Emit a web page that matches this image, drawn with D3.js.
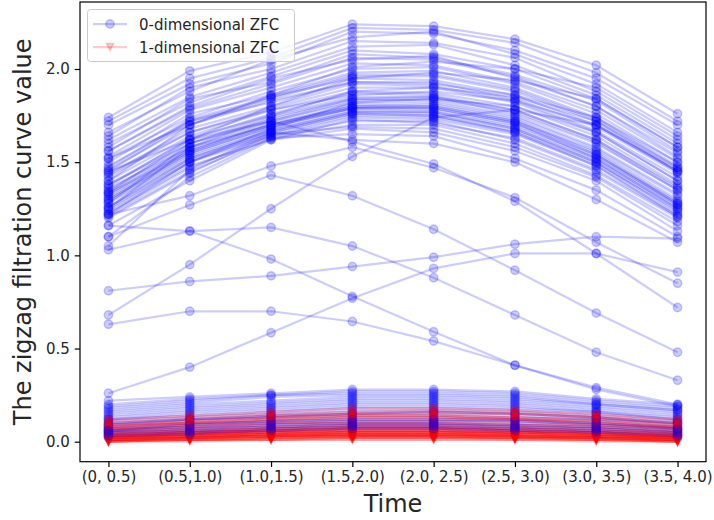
<!DOCTYPE html>
<html>
<head>
<meta charset="utf-8">
<script src="https://cdn.jsdelivr.net/npm/d3@7"></script>
<style>
  body { margin: 0; background: #fff; }
  svg { display: block; font-family: "DejaVu Sans", sans-serif; }
</style>
</head>
<body>
<div id="vis"></div>
<script>
// time windows on the x axis
const timeLabels = ['(0, 0.5)', '(0.5,1.0)', '(1.0,1.5)', '(1.5,2.0)', '(2.0, 2.5)', '(2.5, 3.0)', '(3.0, 3.5)', '(3.5, 4.0)'];
const yTicks = [0.0, 0.5, 1.0, 1.5, 2.0];

// 0-dimensional ZFC, upper bundle
const zfc0Upper = [
  [1.74, 1.99, 2.09, 2.24, 2.23, 2.16, 2.02, 1.76],
  [1.72, 1.95, 2.06, 2.22, 2.21, 2.14, 1.98, 1.72],
  [1.70, 1.92, 2.03, 2.20, 2.19, 2.10, 1.95, 1.70],
  [1.66, 1.88, 2.05, 2.17, 2.20, 2.08, 1.92, 1.66],
  [1.64, 1.90, 2.00, 2.15, 2.14, 2.06, 1.88, 1.62],
  [1.62, 1.85, 1.98, 2.12, 2.13, 2.02, 1.86, 1.60],
  [1.60, 1.82, 1.96, 2.10, 2.08, 2.00, 1.84, 1.58],
  [1.58, 1.84, 1.93, 2.08, 2.06, 1.97, 1.83, 1.56],
  [1.56, 1.80, 1.95, 2.05, 2.07, 1.95, 1.80, 1.55],
  [1.53, 1.78, 1.90, 2.03, 2.02, 1.93, 1.78, 1.52],
  [1.52, 1.74, 1.88, 2.00, 2.01, 1.92, 1.76, 1.50],
  [1.50, 1.76, 1.86, 1.98, 1.99, 1.90, 1.74, 1.48],
  [1.48, 1.72, 1.84, 1.96, 1.96, 1.88, 1.72, 1.47],
  [1.46, 1.70, 1.85, 1.95, 1.94, 1.86, 1.70, 1.45],
  [1.45, 1.72, 1.82, 1.93, 1.93, 1.84, 1.69, 1.44],
  [1.43, 1.68, 1.80, 1.92, 1.91, 1.83, 1.67, 1.42],
  [1.42, 1.66, 1.79, 1.90, 1.90, 1.82, 1.66, 1.40],
  [1.40, 1.64, 1.78, 1.88, 1.87, 1.80, 1.64, 1.38],
  [1.38, 1.62, 1.76, 1.87, 1.86, 1.78, 1.62, 1.37],
  [1.37, 1.63, 1.75, 1.85, 1.85, 1.76, 1.60, 1.35],
  [1.35, 1.60, 1.73, 1.84, 1.83, 1.75, 1.58, 1.33],
  [1.34, 1.58, 1.72, 1.82, 1.82, 1.74, 1.57, 1.32],
  [1.33, 1.57, 1.70, 1.81, 1.80, 1.72, 1.56, 1.30],
  [1.32, 1.56, 1.71, 1.80, 1.79, 1.71, 1.54, 1.29],
  [1.31, 1.55, 1.69, 1.79, 1.78, 1.70, 1.53, 1.28],
  [1.30, 1.54, 1.68, 1.78, 1.77, 1.69, 1.52, 1.27],
  [1.29, 1.53, 1.67, 1.77, 1.76, 1.68, 1.51, 1.26],
  [1.28, 1.52, 1.66, 1.76, 1.75, 1.67, 1.50, 1.25],
  [1.26, 1.51, 1.65, 1.75, 1.74, 1.66, 1.49, 1.24],
  [1.25, 1.50, 1.64, 1.74, 1.73, 1.65, 1.48, 1.22],
  [1.23, 1.48, 1.62, 1.73, 1.71, 1.63, 1.46, 1.21],
  [1.22, 1.47, 1.64, 1.72, 1.72, 1.62, 1.45, 1.20],
  [1.21, 1.45, 1.63, 1.70, 1.70, 1.60, 1.43, 1.18],
  [1.20, 1.44, 1.65, 1.69, 1.68, 1.58, 1.42, 1.16],
  [1.16, 1.40, 1.62, 1.68, 1.66, 1.56, 1.40, 1.13],
  [1.10, 1.42, 1.63, 1.65, 1.64, 1.52, 1.35, 1.10],
  [1.05, 1.46, 1.66, 1.62, 1.60, 1.50, 1.30, 1.07],
  [1.52, 1.70, 1.83, 1.93, 1.92, 1.86, 1.74, 1.50],
  [1.36, 1.58, 1.74, 1.84, 1.85, 1.78, 1.62, 1.36],
  [1.44, 1.66, 1.78, 1.86, 1.88, 1.83, 1.70, 1.46],
  [1.24, 1.50, 1.68, 1.82, 1.84, 1.80, 1.66, 1.40],
  [1.28, 1.60, 1.75, 1.88, 1.90, 1.85, 1.72, 1.45],
  [1.34, 1.62, 1.80, 1.95, 1.98, 1.94, 1.84, 1.58],
  [1.40, 1.70, 1.86, 2.01, 2.04, 2.00, 1.90, 1.64],
  [1.33, 1.56, 1.70, 1.80, 1.81, 1.73, 1.55, 1.28],
  [1.30, 1.55, 1.69, 1.79, 1.80, 1.72, 1.54, 1.27],
  [1.26, 1.52, 1.67, 1.77, 1.77, 1.68, 1.50, 1.23],
  [1.22, 1.50, 1.66, 1.76, 1.75, 1.66, 1.48, 1.21],
  [1.38, 1.60, 1.72, 1.83, 1.84, 1.77, 1.61, 1.35],
  [1.47, 1.73, 1.85, 1.97, 1.97, 1.89, 1.73, 1.47],
  [1.56, 1.79, 1.92, 2.06, 2.05, 1.96, 1.80, 1.53],
  [1.25, 1.58, 1.70, 1.79, 1.79, 1.71, 1.52, 1.25]
];

// 0-dimensional ZFC, the stray curves in the middle
const zfc0Middle = [
  [1.16, 1.13, 0.98, 0.78, 0.59, 0.41, 0.29, 0.20],
  [1.03, 1.13, 1.15, 1.05, 0.88, 0.68, 0.48, 0.33],
  [1.10, 1.27, 1.43, 1.32, 1.14, 0.92, 0.69, 0.48],
  [0.81, 0.86, 0.89, 0.94, 0.99, 1.06, 1.10, 1.09],
  [0.68, 0.95, 1.25, 1.53, 1.74, 1.78, 1.70, 1.45],
  [0.26, 0.40, 0.585, 0.77, 0.93, 1.01, 1.01, 0.91],
  [1.22, 1.32, 1.48, 1.58, 1.47, 1.31, 1.07, 0.85],
  [0.63, 0.70, 0.70, 0.645, 0.54, 0.41, 0.28, 0.19],
  [1.45, 1.62, 1.72, 1.61, 1.49, 1.29, 1.01, 0.72]
];

// 0-dimensional ZFC, low bundle (drawn under the 1-dimensional curves)
const zfc0Lower = [
  [0.22, 0.24, 0.26, 0.28, 0.28, 0.27, 0.23, 0.20],
  [0.20, 0.23, 0.25, 0.27, 0.27, 0.26, 0.22, 0.19],
  [0.19, 0.22, 0.25, 0.26, 0.26, 0.25, 0.21, 0.18],
  [0.18, 0.21, 0.24, 0.25, 0.25, 0.24, 0.20, 0.17],
  [0.17, 0.20, 0.22, 0.24, 0.24, 0.23, 0.20, 0.17],
  [0.16, 0.19, 0.21, 0.23, 0.23, 0.22, 0.19, 0.16],
  [0.15, 0.18, 0.20, 0.22, 0.22, 0.21, 0.18, 0.15],
  [0.14, 0.17, 0.19, 0.21, 0.21, 0.20, 0.17, 0.14],
  [0.13, 0.16, 0.18, 0.20, 0.20, 0.19, 0.16, 0.13],
  [0.12, 0.15, 0.17, 0.19, 0.19, 0.18, 0.16, 0.12],
  [0.12, 0.14, 0.16, 0.18, 0.18, 0.17, 0.15, 0.12],
  [0.11, 0.13, 0.15, 0.17, 0.17, 0.16, 0.14, 0.11],
  [0.10, 0.12, 0.14, 0.16, 0.16, 0.15, 0.13, 0.10],
  [0.10, 0.12, 0.13, 0.15, 0.15, 0.14, 0.12, 0.10],
  [0.09, 0.11, 0.13, 0.14, 0.14, 0.13, 0.12, 0.09],
  [0.08, 0.10, 0.12, 0.13, 0.13, 0.12, 0.11, 0.08],
  [0.08, 0.10, 0.11, 0.12, 0.12, 0.12, 0.10, 0.08],
  [0.07, 0.09, 0.10, 0.11, 0.11, 0.11, 0.09, 0.07],
  [0.07, 0.08, 0.10, 0.11, 0.11, 0.10, 0.09, 0.07],
  [0.06, 0.08, 0.09, 0.10, 0.10, 0.09, 0.08, 0.06],
  [0.05, 0.07, 0.08, 0.09, 0.09, 0.08, 0.07, 0.05],
  [0.04, 0.06, 0.07, 0.08, 0.08, 0.07, 0.06, 0.04],
  [0.03, 0.05, 0.06, 0.07, 0.07, 0.06, 0.05, 0.03],
  [0.02, 0.04, 0.05, 0.06, 0.06, 0.05, 0.04, 0.02],
  [0.09, 0.12, 0.14, 0.15, 0.16, 0.15, 0.13, 0.10]
];

// 0-dimensional ZFC, low curves that sit on top of the red band
const zfc0Low = [
  [0.06, 0.07, 0.09, 0.10, 0.10, 0.09, 0.08, 0.06],
  [0.05, 0.06, 0.08, 0.09, 0.09, 0.08, 0.07, 0.05],
  [0.04, 0.05, 0.07, 0.08, 0.08, 0.07, 0.06, 0.04],
  [0.03, 0.04, 0.06, 0.07, 0.07, 0.06, 0.05, 0.03],
  [0.06, 0.09, 0.11, 0.12, 0.12, 0.11, 0.10, 0.07]
];

// 1-dimensional ZFC
const zfc1 = [
  [0.12, 0.14, 0.16, 0.18, 0.18, 0.17, 0.15, 0.12],
  [0.11, 0.13, 0.15, 0.16, 0.17, 0.16, 0.14, 0.11],
  [0.10, 0.12, 0.14, 0.15, 0.15, 0.15, 0.13, 0.10],
  [0.09, 0.11, 0.13, 0.14, 0.14, 0.13, 0.12, 0.09],
  [0.09, 0.10, 0.12, 0.13, 0.13, 0.12, 0.11, 0.08],
  [0.08, 0.10, 0.11, 0.12, 0.12, 0.12, 0.10, 0.08],
  [0.07, 0.09, 0.10, 0.11, 0.11, 0.11, 0.09, 0.07],
  [0.07, 0.08, 0.10, 0.10, 0.10, 0.10, 0.09, 0.07],
  [0.06, 0.08, 0.09, 0.10, 0.10, 0.09, 0.08, 0.06],
  [0.06, 0.07, 0.08, 0.09, 0.09, 0.09, 0.08, 0.06],
  [0.05, 0.07, 0.08, 0.09, 0.09, 0.08, 0.07, 0.05],
  [0.05, 0.06, 0.07, 0.08, 0.08, 0.08, 0.07, 0.05],
  [0.05, 0.06, 0.07, 0.08, 0.08, 0.07, 0.06, 0.05],
  [0.04, 0.05, 0.06, 0.07, 0.07, 0.07, 0.06, 0.04],
  [0.04, 0.05, 0.06, 0.07, 0.07, 0.06, 0.05, 0.04],
  [0.04, 0.05, 0.06, 0.06, 0.06, 0.06, 0.05, 0.04],
  [0.03, 0.04, 0.05, 0.06, 0.06, 0.05, 0.05, 0.03],
  [0.03, 0.04, 0.05, 0.05, 0.05, 0.05, 0.04, 0.03],
  [0.03, 0.04, 0.04, 0.05, 0.05, 0.05, 0.04, 0.03],
  [0.02, 0.03, 0.04, 0.05, 0.05, 0.04, 0.04, 0.02],
  [0.02, 0.03, 0.04, 0.04, 0.04, 0.04, 0.03, 0.02],
  [0.02, 0.03, 0.03, 0.04, 0.04, 0.04, 0.03, 0.02],
  [0.02, 0.02, 0.03, 0.04, 0.04, 0.03, 0.03, 0.02],
  [0.01, 0.02, 0.03, 0.03, 0.03, 0.03, 0.02, 0.01],
  [0.01, 0.02, 0.02, 0.03, 0.03, 0.03, 0.02, 0.01],
  [0.01, 0.02, 0.02, 0.02, 0.02, 0.02, 0.02, 0.01],
  [0.01, 0.01, 0.02, 0.02, 0.02, 0.02, 0.01, 0.01],
  [0.00, 0.01, 0.01, 0.02, 0.02, 0.01, 0.01, 0.00],
  [0.00, 0.01, 0.01, 0.01, 0.01, 0.01, 0.01, 0.00],
  [0.00, 0.00, 0.01, 0.01, 0.01, 0.01, 0.00, 0.00],
  [0.03, 0.05, 0.06, 0.07, 0.07, 0.06, 0.05, 0.03],
  [0.02, 0.04, 0.05, 0.06, 0.06, 0.05, 0.04, 0.02],
  [0.01, 0.03, 0.04, 0.05, 0.05, 0.04, 0.03, 0.01],
  [0.00, 0.02, 0.03, 0.04, 0.04, 0.03, 0.02, 0.00],
  [0.06, 0.09, 0.11, 0.13, 0.13, 0.12, 0.10, 0.07],
  [0.08, 0.11, 0.13, 0.15, 0.16, 0.15, 0.13, 0.09],
  [0.01, 0.02, 0.03, 0.04, 0.04, 0.03, 0.02, 0.01],
  [0.02, 0.03, 0.04, 0.05, 0.05, 0.04, 0.03, 0.02],
  [0.03, 0.04, 0.05, 0.06, 0.06, 0.05, 0.04, 0.03],
  [0.04, 0.05, 0.06, 0.07, 0.07, 0.06, 0.05, 0.04],
  [0.05, 0.06, 0.07, 0.08, 0.08, 0.07, 0.06, 0.05],
  [0.00, 0.01, 0.02, 0.03, 0.03, 0.02, 0.01, 0.00],
  [0.01, 0.01, 0.02, 0.03, 0.03, 0.02, 0.02, 0.01],
  [0.02, 0.02, 0.03, 0.03, 0.03, 0.03, 0.02, 0.02],
  [0.03, 0.03, 0.04, 0.04, 0.04, 0.04, 0.03, 0.03],
  [0.04, 0.04, 0.05, 0.05, 0.05, 0.05, 0.04, 0.04],
  [0.00, 0.01, 0.01, 0.02, 0.02, 0.02, 0.01, 0.00],
  [0.01, 0.02, 0.03, 0.03, 0.03, 0.02, 0.02, 0.01],
  [0.02, 0.03, 0.04, 0.04, 0.04, 0.03, 0.03, 0.02],
  [0.07, 0.10, 0.12, 0.14, 0.14, 0.13, 0.11, 0.08]
];

const W = 714, H = 520;
const plot = { left: 80, right: 706, top: 2, bottom: 461.7 };
const ALPHA = 0.2;

const svg = d3.select('#vis').append('svg')
  .attr('width', W)
  .attr('height', H);

const x = d3.scaleLinear().domain([-0.35, 7.35]).range([plot.left, plot.right]);
const y = d3.scaleLinear().domain([-0.1073, 2.3595]).range([plot.bottom, plot.top]);

const line = d3.line()
  .x((d, i) => x(i))
  .y(d => y(d));

const tri = 'M0,3.6L-3.6,-3.6L3.6,-3.6Z';

svg.append('clipPath').attr('id', 'clip')
  .append('rect')
  .attr('x', plot.left).attr('y', plot.top)
  .attr('width', plot.right - plot.left)
  .attr('height', plot.bottom - plot.top);

const marks = svg.append('g')
  .attr('clip-path', 'url(#clip)');

function drawZero(vals) {
  const g = marks.append('g');
  g.append('path')
    .attr('d', line(vals))
    .attr('fill', 'none')
    .attr('stroke', 'blue')
    .attr('stroke-opacity', ALPHA)
    .attr('stroke-width', 2.25);
  g.selectAll('circle').data(vals).join('circle')
    .attr('cx', (d, i) => x(i))
    .attr('cy', d => y(d))
    .attr('r', 4.2)
    .attr('fill', 'blue')
    .attr('fill-opacity', ALPHA)
    .attr('stroke', 'blue')
    .attr('stroke-opacity', ALPHA)
    .attr('stroke-width', 1.5);
}

function drawOne(vals) {
  const g = marks.append('g');
  g.append('path')
    .attr('d', line(vals))
    .attr('fill', 'none')
    .attr('stroke', 'red')
    .attr('stroke-opacity', ALPHA)
    .attr('stroke-width', 2.25);
  g.selectAll('path.m').data(vals).join('path')
    .attr('class', 'm')
    .attr('d', tri)
    .attr('transform', (d, i) => 'translate(' + x(i) + ',' + y(d) + ')')
    .attr('fill', 'red')
    .attr('fill-opacity', ALPHA)
    .attr('stroke', 'red')
    .attr('stroke-opacity', ALPHA)
    .attr('stroke-width', 1.5);
}

zfc0Upper.forEach(drawZero);
zfc0Middle.forEach(drawZero);
zfc0Lower.forEach(drawZero);
zfc1.forEach(drawOne);
zfc0Low.forEach(drawZero);

// frame
svg.append('rect')
  .attr('x', plot.left).attr('y', plot.top)
  .attr('width', plot.right - plot.left)
  .attr('height', plot.bottom - plot.top)
  .attr('fill', 'none')
  .attr('stroke', 'black')
  .attr('stroke-width', 1.2);

// axes
const xAxis = d3.axisBottom(x)
  .tickValues(d3.range(timeLabels.length))
  .tickFormat(i => timeLabels[i])
  .tickSizeOuter(0)
  .tickSize(5.25)
  .tickPadding(4.5);

const yAxis = d3.axisLeft(y)
  .tickValues(yTicks)
  .tickFormat(d3.format('.1f'))
  .tickSizeOuter(0)
  .tickSize(5.25)
  .tickPadding(5);

const gx = svg.append('g')
  .attr('transform', 'translate(0,' + plot.bottom + ')')
  .call(xAxis);
const gy = svg.append('g')
  .attr('transform', 'translate(' + plot.left + ',0)')
  .call(yAxis);

[gx, gy].forEach(g => {
  g.select('.domain').remove();
  g.selectAll('.tick line').attr('stroke', 'black').attr('stroke-width', 1.2);
  g.selectAll('.tick text')
    .attr('fill', '#262626')
    .style('font-family', '"DejaVu Sans", sans-serif')
    .style('font-size', '15px');
});

// axis titles
svg.append('text')
  .attr('x', (plot.left + plot.right) / 2)
  .attr('y', 512)
  .attr('text-anchor', 'middle')
  .style('font-size', '24px')
  .attr('fill', '#262626')
  .text('Time');

svg.append('text')
  .attr('transform', 'translate(31,' + ((plot.top + plot.bottom) / 2) + ') rotate(-90)')
  .attr('text-anchor', 'middle')
  .style('font-size', '24px')
  .attr('fill', '#262626')
  .text('The zigzag filtration curve value');

// legend
const legend = svg.append('g');
legend.append('rect')
  .attr('x', 87.5).attr('y', 9.5)
  .attr('width', 207).attr('height', 52)
  .attr('rx', 3)
  .attr('fill', 'white')
  .attr('fill-opacity', 0.8)
  .attr('stroke', '#cccccc')
  .attr('stroke-width', 1);

const entries = [
  { label: '0-dimensional ZFC', color: 'blue', shape: 'circle', yPos: 24 },
  { label: '1-dimensional ZFC', color: 'red', shape: 'tri', yPos: 47 }
];

entries.forEach(e => {
  legend.append('line')
    .attr('x1', 93).attr('x2', 127)
    .attr('y1', e.yPos).attr('y2', e.yPos)
    .attr('stroke', e.color)
    .attr('stroke-opacity', ALPHA)
    .attr('stroke-width', 2.25);
  if (e.shape === 'circle') {
    legend.append('circle')
      .attr('cx', 110).attr('cy', e.yPos).attr('r', 4.2)
      .attr('fill', e.color).attr('fill-opacity', ALPHA)
      .attr('stroke', e.color).attr('stroke-opacity', ALPHA).attr('stroke-width', 1.5);
  } else {
    legend.append('path')
      .attr('d', tri)
      .attr('transform', 'translate(110,' + e.yPos + ')')
      .attr('fill', e.color).attr('fill-opacity', ALPHA)
      .attr('stroke', e.color).attr('stroke-opacity', ALPHA).attr('stroke-width', 1.5);
  }
  legend.append('text')
    .attr('x', 139)
    .attr('y', e.yPos + 5.5)
    .style('font-size', '15px')
    .attr('fill', '#262626')
    .text(e.label);
});
</script>
</body>
</html>
